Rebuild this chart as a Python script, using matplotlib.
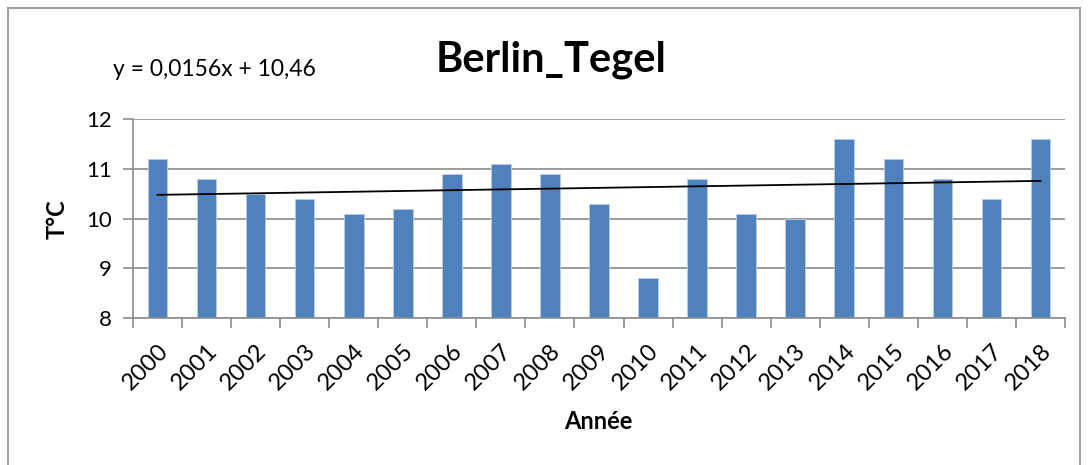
import numpy as np
import matplotlib.pyplot as plt
from matplotlib.patches import Rectangle

# --- Data ---
years = ['2000', '2001', '2002', '2003', '2004', '2005', '2006', '2007', '2008', '2009',
         '2010', '2011', '2012', '2013', '2014', '2015', '2016', '2017', '2018']
temps = [11.2, 10.8, 10.5, 10.4, 10.1, 10.2, 10.9, 11.1, 10.9, 10.3,
         8.8, 10.8, 10.1, 10.0, 11.6, 11.2, 10.8, 10.4, 11.6]
equation = 'y = 0,0156x + 10,46'

plt.rcParams['font.family'] = ['Lato', 'DejaVu Sans']

grey = '#8c8c8c'
blue = '#4f81bd'

fig = plt.figure(figsize=(10.89, 4.65), dpi=100)
ax = fig.add_axes([133 / 1089, 147 / 465, (1065 - 133) / 1089, (346 - 147) / 465])

x = np.arange(len(years))
ax.bar(x, temps, width=0.4, color=blue, edgecolor='#b9cde5', linewidth=0.6, zorder=2)

# linear trend (Excel numbering x = 1..n)
slope, intercept = np.polyfit(x + 1, temps, 1)
ax.plot(x, slope * (x + 1) + intercept, color='black', lw=1.3, zorder=3)

ax.set_xlim(-0.5, len(years) - 0.5)
ax.set_ylim(8, 12)
ax.set_yticks([8, 9, 10, 11, 12])
ax.yaxis.grid(True, color=grey, lw=1.2, zorder=0)

ax.set_xticks(x)
ax.set_xticklabels(years, rotation=45, ha='right', rotation_mode='anchor')
ax.set_xticks(np.arange(len(years) + 1) - 0.5, minor=True)
ax.tick_params(axis='x', which='major', length=0, pad=16, labelsize=17)
ax.tick_params(axis='x', which='minor', length=7, color=grey, width=1.2)
ax.tick_params(axis='y', length=7, color=grey, width=1.2, labelsize=16, pad=8)

for s in ['top', 'right']:
    ax.spines[s].set_visible(False)
for s in ['left', 'bottom']:
    ax.spines[s].set_color(grey)
    ax.spines[s].set_linewidth(1.2)

fig.text(57 / 1089, 1 - 219 / 465, 'T°C', fontsize=17, fontweight='bold',
         rotation=90, ha='center', va='center')
fig.text(598 / 1089, 1 - 421 / 465, 'Année', fontsize=17, fontweight='bold',
         ha='center', va='center')

fig.text(551 / 1089, 1 - 60 / 465, 'Berlin_Tegel', fontsize=30, fontweight='bold',
         ha='center', va='center')
fig.text(113 / 1089, 1 - 70 / 465, equation, fontsize=16.5, ha='left', va='center')

# chart border
fig.patches.append(Rectangle((8 / 1089, -0.1), (1080 - 8) / 1089, 1.1 - 8 / 465,
                             transform=fig.transFigure, fill=False,
                             edgecolor='#a0a0a0', linewidth=1.5))

fig.savefig('out.png', dpi=100)
